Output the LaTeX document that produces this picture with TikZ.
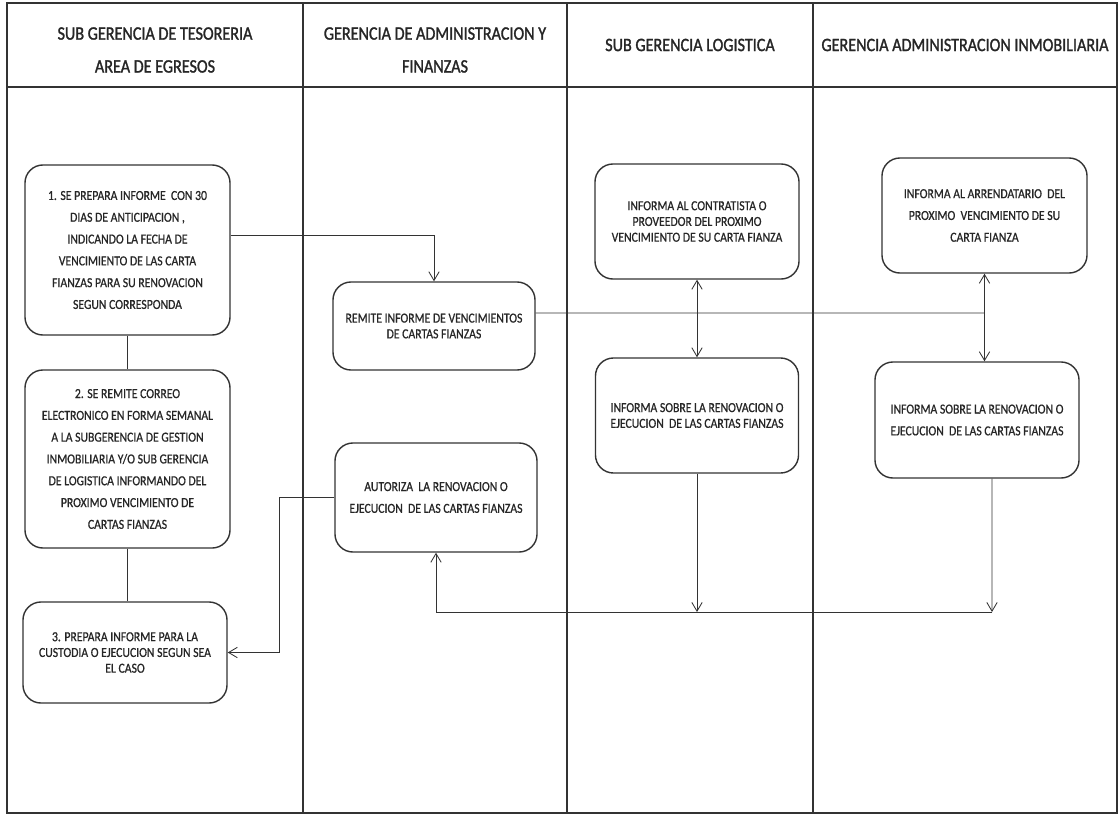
\documentclass[tikz,border=0pt]{standalone}
\usepackage{fontspec}
\setmainfont{Carlito}
\newfontfamily\cuerpo[FakeStretch=0.85,FakeBold=0.7]{Carlito}
\newfontfamily\titulo[FakeStretch=0.85,FakeBold=1.4]{Carlito}
\usetikzlibrary{arrows.meta}

\definecolor{linea}{HTML}{333333}
\definecolor{texto}{HTML}{262626}

\tikzset{
    tarea/.style={draw=linea, line width=1pt, rounded corners=0.45cm, align=center,
        text=texto, inner sep=0pt, font={\cuerpo\fontsize{9.8}{15.5}\selectfont}},
    tareajunta/.style={tarea, font={\cuerpo\fontsize{9.8}{11.2}\selectfont}},
    cabecera/.style={align=center, text=texto, font={\titulo\fontsize{13.5}{23.4}\selectfont}},
    conector/.style={draw=linea, line width=0.6pt},
    flecha/.style={conector, -{Straight Barb[length=2.2mm,width=2.6mm]}},
    flechas/.style={conector, {Straight Barb[length=2.2mm,width=2.6mm]}-{Straight Barb[length=2.2mm,width=2.6mm]}}
}

\begin{document}
\begin{tikzpicture}[x=0.025cm, y=-0.025cm]
                \fill [white] (0, 0) rectangle (1119, 816);
                \useasboundingbox (0, 0) rectangle (1119, 816);
                % carriles
                \draw [linea, line width=0.8pt] (7, 3) rectangle (1117, 813);
                \draw [linea, line width=0.8pt] (7, 87) -- (1117, 87);
                \foreach \x in {303, 567, 813}
                    \draw [linea, line width=0.8pt] (\x, 3) -- (\x, 813);
                % cabeceras
                \node [cabecera] (h1) at (155, 50) {SUB GERENCIA DE TESORERIA\\AREA DE EGRESOS};
                \node [cabecera] (h2) at (435, 50) {GERENCIA DE ADMINISTRACION Y\\FINANZAS};
                \node [cabecera] (h3) at (690, 45) {SUB GERENCIA LOGISTICA};
                \node [cabecera] (h4) at (965, 45) {GERENCIA ADMINISTRACION INMOBILIARIA};
                % tesoreria
                \node [tarea, minimum width=5.125cm, minimum height=4.25cm] (t1) at (127.5, 250)
                    {1. SE PREPARA INFORME\ \ CON 30\\DIAS DE ANTICIPACION ,\\INDICANDO LA FECHA DE\\VENCIMIENTO DE LAS CARTA\\FIANZAS PARA SU RENOVACION\\SEGUN CORRESPONDA};
                \node [tarea, minimum width=5.125cm, minimum height=4.45cm] (t2) at (127.5, 459)
                    {2. SE REMITE CORREO\\ELECTRONICO EN FORMA SEMANAL\\A LA SUBGERENCIA DE GESTION\\INMOBILIARIA Y/O SUB GERENCIA\\DE LOGISTICA INFORMANDO DEL\\PROXIMO VENCIMIENTO DE\\CARTAS FIANZAS};
                \node [tareajunta, minimum width=5.1cm, minimum height=2.525cm] (t3) at (125, 652.5)
                    {3. PREPARA INFORME PARA LA\\CUSTODIA O EJECUCION SEGUN SEA\\EL CASO};
                % administracion y finanzas
                \node [tareajunta, minimum width=5.05cm, minimum height=2.2cm] (g1) at (434, 326)
                    {REMITE INFORME DE VENCIMIENTOS\\DE CARTAS FIANZAS};
                \node [tarea, minimum width=5.05cm, minimum height=2.725cm] (g2) at (436, 497.5)
                    {AUTORIZA\ \ LA RENOVACION O\\EJECUCION\ \ DE LAS CARTAS FIANZAS};
                % logistica
                \node [tareajunta, minimum width=5.1cm, minimum height=2.875cm] (l1) at (697, 221.5)
                    {INFORMA AL CONTRATISTA O\\PROVEEDOR DEL PROXIMO\\VENCIMIENTO DE SU CARTA FIANZA};
                \node [tareajunta, minimum width=5.075cm, minimum height=2.875cm] (l2) at (697, 415.5)
                    {INFORMA SOBRE LA RENOVACION O\\EJECUCION\ \ DE LAS CARTAS FIANZAS};
                % inmobiliaria
                \node [tarea, minimum width=5.125cm, minimum height=2.875cm] (i1) at (984.5, 215.5)
                    {INFORMA AL ARRENDATARIO\ \ DEL\\PROXIMO\ \ VENCIMIENTO DE SU\\CARTA FIANZA};
                \node [tarea, minimum width=5.1cm, minimum height=2.9cm] (i2) at (977, 420)
                    {INFORMA SOBRE LA RENOVACION O\\EJECUCION\ \ DE LAS CARTAS FIANZAS};
                % conectores
                \coordinate (cruce) at (984.5, 313);
                \coordinate (base) at (992, 612);
                \draw [conector] (t1) -- (t2);
                \draw [conector] (t2.south) -- (t2.south |- t3.north);
                \draw [flecha] ([yshift=0.375cm]t1.east) -| (g1.north);
                \draw [conector] ([yshift=0.325cm]g1.east) -- (cruce);
                \draw [flechas] (l1.south) -- (l1.south |- l2.north);
                \draw [flechas] (i1.south) -- (i1.south |- i2.north);
                \draw [flecha] (l2.south) -- (l2.south |- base);
                \draw [flecha] ([xshift=0.375cm]i2.south) -- (base);
                \draw [flecha] (base) -| (g2.south);
                \draw [flecha] (g2.west) -- ++(-55, 0) |- (t3.east);
\end{tikzpicture}
\end{document}
